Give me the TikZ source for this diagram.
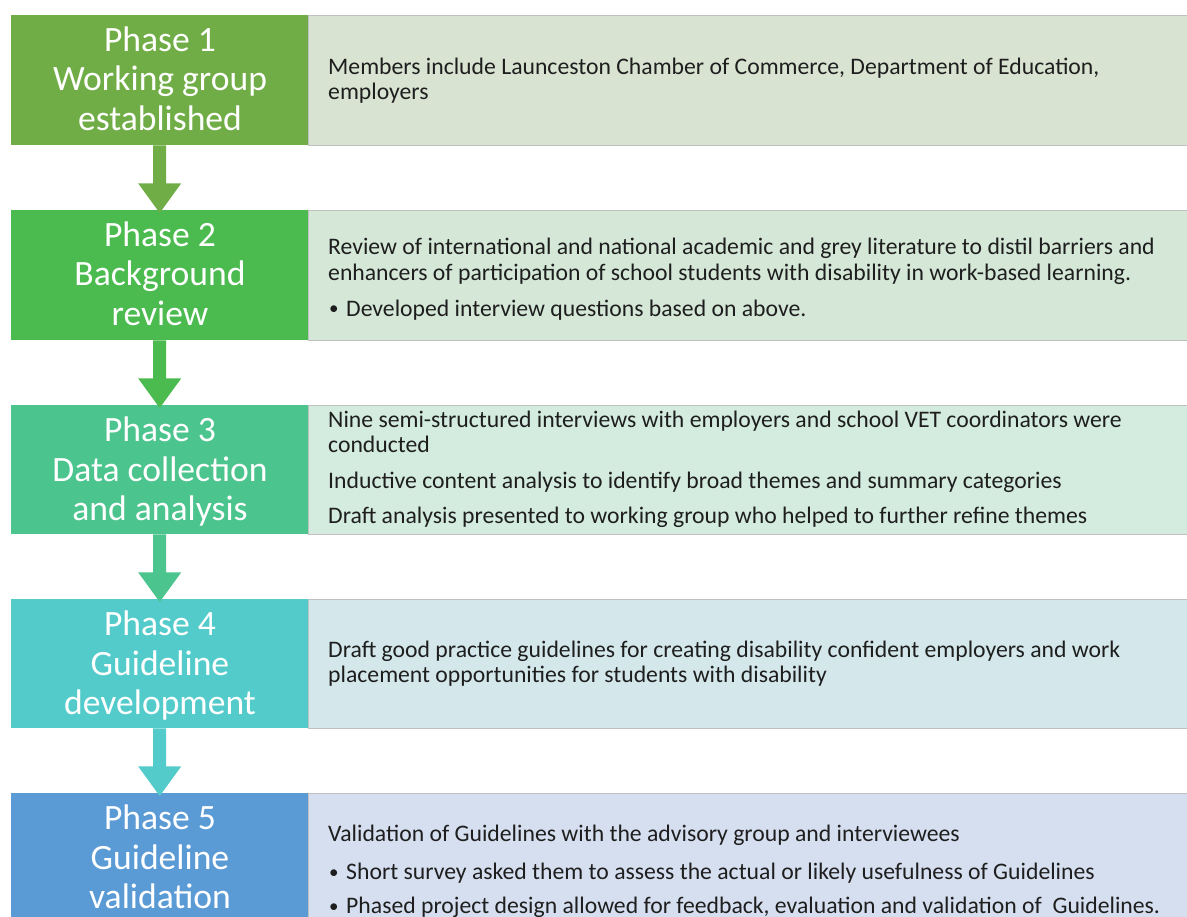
\documentclass[tikz,border=0pt]{standalone}
\usepackage{fontspec}
\setmainfont{Carlito}
\usetikzlibrary{calc}
\definecolor{c1}{HTML}{70AD47}
\definecolor{c2}{HTML}{4BBB4F}
\definecolor{c3}{HTML}{4CC48D}
\definecolor{c4}{HTML}{54CBCB}
\definecolor{c5}{HTML}{5B9BD5}
\definecolor{b1}{HTML}{D9E3D2}
\definecolor{b2}{HTML}{D5E8D8}
\definecolor{b3}{HTML}{D4EBE0}
\definecolor{b4}{HTML}{D4E8EB}
\definecolor{b5}{HTML}{D6DFEF}
\definecolor{infoline}{HTML}{C0C0C0}
\definecolor{infotextcol}{HTML}{1E1E1E}
\tikzset{
  phasebox/.style={minimum width=297pt, inner sep=0pt, anchor=north west, draw=none},
  infobox/.style={minimum width=885pt, inner sep=0pt, anchor=north west, draw=infoline, line width=1pt},
  phasetext/.style={text=white, font=\fontsize{35.6}{39.5}\selectfont, anchor=base, inner sep=0pt},
  infotext/.style={text=infotextcol, font=\fontsize{23.7}{25}\selectfont, anchor=base west, inner sep=0pt},
  bullettext/.style={text=infotextcol, font=\fontsize{19}{25}\selectfont, anchor=base west, inner sep=0pt},
}
\newcommand{\blockarrow}[3]{%
  \fill[#3] ($(#1.south)+(-6.5,0)$) -- ($(#1.south)+(6.5,0)$) -- ($(#1.south)+(6.5,38)$)
    -- ($(#1.south)+(21.5,38)$) -- ($(#2.north)+(0,3)$) -- ($(#1.south)+(-21.5,38)$)
    -- ($(#1.south)+(-6.5,38)$) -- cycle;}
\begin{document}
\begin{tikzpicture}[x=1pt,y=-1pt]
\useasboundingbox (0,0) rectangle (1187,917);
\clip (0,0) rectangle (1187,917);
\fill[white] (0,0) rectangle (1187,917);

% info boxes
\node[infobox, fill=b1, minimum height=130pt] (i1) at (308,15) {};
\node[infobox, fill=b2, minimum height=130pt] (i2) at (308,210) {};
\node[infobox, fill=b3, minimum height=129pt] (i3) at (308,405) {};
\node[infobox, fill=b4, minimum height=129pt] (i4) at (308,599) {};
\node[infobox, fill=b5, minimum height=140pt] (i5) at (308,793) {};

% phase boxes
\node[phasebox, fill=c1, minimum height=130pt] (p1) at (11,15) {};
\node[phasebox, fill=c2, minimum height=130pt] (p2) at (11,210) {};
\node[phasebox, fill=c3, minimum height=129pt] (p3) at (11,405) {};
\node[phasebox, fill=c4, minimum height=129pt] (p4) at (11,599) {};
\node[phasebox, fill=c5, minimum height=140pt] (p5) at (11,793) {};

% connectors
\blockarrow{p1}{p2}{c1}
\blockarrow{p2}{p3}{c2}
\blockarrow{p3}{p4}{c3}
\blockarrow{p4}{p5}{c4}

% phase labels
\node[phasetext] (p1a) at (160,51.5) {Phase 1};
\node[phasetext] (p1b) at (160,91) {Working group};
\node[phasetext] (p1c) at (160,130.5) {established};
\node[phasetext] (p2a) at (160,246.5) {Phase 2};
\node[phasetext] (p2b) at (160,286) {Background};
\node[phasetext] (p2c) at (160,325.5) {review};
\node[phasetext] (p3a) at (160,441.5) {Phase 3};
\node[phasetext] (p3b) at (160,481) {Data collection};
\node[phasetext] (p3c) at (160,520.5) {and analysis};
\node[phasetext] (p4a) at (160,635.5) {Phase 4};
\node[phasetext] (p4b) at (160,675) {Guideline};
\node[phasetext] (p4c) at (160,714.5) {development};
\node[phasetext] (p5a) at (160,829.5) {Phase 5};
\node[phasetext] (p5b) at (160,869) {Guideline};
\node[phasetext] (p5c) at (160,908.5) {validation};

% info texts
\node[infotext] (t1a) at (328,74.5) {Members include Launceston Chamber of Commerce, Department of Education,};
\node[infotext] (t1b) at (328,99.5) {employers};

\node[infotext] (t2a) at (328,254.5) {Review of international and national academic and grey literature to distil barriers and};
\node[infotext] (t2b) at (328,280.5) {enhancers of participation of school students with disability in work-based learning.};
\node[bullettext] (t2c) at (329,315) {•};
\node[infotext] (t2d) at (346,316.5) {Developed interview questions based on above.};

\node[infotext] (t3a) at (328,427.5) {Nine semi-structured interviews with employers and school VET coordinators were};
\node[infotext] (t3b) at (328,452.5) {conducted};
\node[infotext] (t3c) at (328,488.5) {Inductive content analysis to identify broad themes and summary categories};
\node[infotext] (t3d) at (328,523.5) {Draft analysis presented to working group who helped to further refine themes};

\node[infotext] (t4a) at (328,657.5) {Draft good practice guidelines for creating disability confident employers and work};
\node[infotext] (t4b) at (328,682.5) {placement opportunities for students with disability};

\node[infotext] (t5a) at (328,841.5) {Validation of Guidelines with the advisory group and interviewees};
\node[bullettext] (t5b) at (329,878) {•};
\node[infotext] (t5c) at (346,879.5) {Short survey asked them to assess the actual or likely usefulness of Guidelines};
\node[bullettext] (t5d) at (329,912) {•};
\node[infotext] (t5e) at (346,913.5) {Phased project design allowed for feedback, evaluation and validation of~ Guidelines.};
\end{tikzpicture}
\end{document}
